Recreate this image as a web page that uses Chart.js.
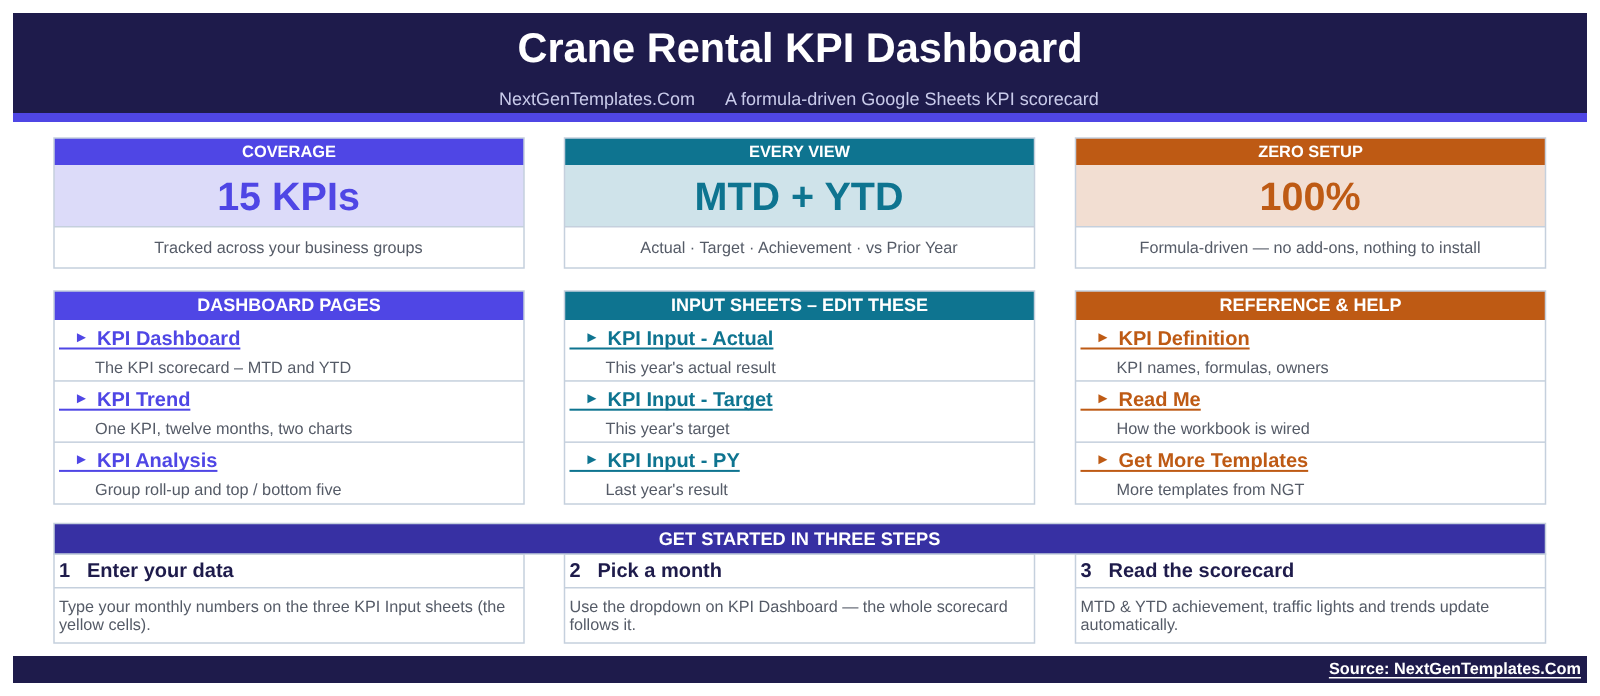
<!DOCTYPE html>
<html>
<head>
<meta charset="utf-8">
<title>Crane Rental KPI Dashboard</title>
<script src="https://cdn.jsdelivr.net/npm/chart.js@4"></script>
<style>
  html, body { margin: 0; padding: 0; background: #ffffff; }
  canvas { display: block; }
</style>
</head>
<body>
<canvas id="dashboard" width="1600" height="696"></canvas>
<script>
// Text content of the sheet
const bannerTitle = 'Crane Rental KPI Dashboard';
const bannerSite = 'NextGenTemplates.Com';
const bannerTagline = 'A formula-driven Google Sheets KPI scorecard';
const cardLabels = ['COVERAGE', 'EVERY VIEW', 'ZERO SETUP'];
const cardValues = ['15 KPIs', 'MTD + YTD', '100%'];
const cardNotes = [
    'Tracked across your business groups',
    'Actual · Target · Achievement · vs Prior Year',
    'Formula-driven — no add-ons, nothing to install'
];
const sectionTitles = ['DASHBOARD PAGES', 'INPUT SHEETS – EDIT THESE', 'REFERENCE & HELP'];
const linkTitles = [
    ['KPI Dashboard', 'KPI Trend', 'KPI Analysis'],
    ['KPI Input - Actual', 'KPI Input - Target', 'KPI Input - PY'],
    ['KPI Definition', 'Read Me', 'Get More Templates']
];
const linkNotes = [
    ['The KPI scorecard – MTD and YTD', 'One KPI, twelve months, two charts', 'Group roll-up and top / bottom five'],
    ["This year's actual result", "This year's target", "Last year's result"],
    ['KPI names, formulas, owners', 'How the workbook is wired', 'More templates from NGT']
];
const stepsHeading = 'GET STARTED IN THREE STEPS';
const stepNumbers = ['1', '2', '3'];
const stepTitles = ['Enter your data', 'Pick a month', 'Read the scorecard'];
const stepLines = [
    ['Type your monthly numbers on the three KPI Input sheets (the', 'yellow cells).'],
    ['Use the dropdown on KPI Dashboard — the whole scorecard', 'follows it.'],
    ['MTD & YTD achievement, traffic lights and trends update', 'automatically.']
];
const sourceText = 'Source: NextGenTemplates.Com';

// Colours
const NAVY = '#1e1b4b';
const ACCENT = ['#4f46e5', '#0e7490', '#be5a14'];
const TINT = ['#dcdbf9', '#cfe3ea', '#f2ded2'];
const BORDER = '#c5d0dd';
const GREY = '#555b67';
const FONT = '"Liberation Sans", Arial, sans-serif';

// Layout, in axis units (the axes run 1:1 with the sheet)
const COL_LEFT = [54, 564.5, 1075.5];
const COL_WIDTH = 470;

const sheetPlugin = {
    id: 'sheet',
    beforeDraw(chart) {
        const { ctx, scales } = chart;
        const X = v => scales.x.getPixelForValue(v);
        const Y = v => scales.y.getPixelForValue(v);
        ctx.textRendering = 'geometricPrecision';

        function box(x0, y0, x1, y1, fill, line) {
            if (fill) {
                ctx.fillStyle = fill;
                ctx.fillRect(X(x0), Y(y0), X(x1) - X(x0), Y(y1) - Y(y0));
            }
            if (line) {
                ctx.strokeStyle = line;
                ctx.lineWidth = 1.5;
                ctx.strokeRect(X(x0), Y(y0), X(x1) - X(x0), Y(y1) - Y(y0));
            }
        }
        function text(str, x, y, font, colour, align) {
            ctx.font = font + ' ' + FONT;
            ctx.fillStyle = colour;
            ctx.textAlign = align || 'left';
            ctx.textBaseline = 'middle';
            ctx.fillText(str, X(x), Y(y + 1.5));
            return ctx.measureText(str).width;
        }
        function rule(x0, x1, y, colour, w) {
            ctx.fillStyle = colour;
            ctx.fillRect(X(x0), Y(y), X(x1) - X(x0), w);
        }

        // Banner
        box(13, 13, 1587, 114, NAVY);
        box(13, 113, 1587, 122, ACCENT[0]);
        text(bannerTitle, 800, 49.5, 'bold 41.5px', '#ffffff', 'center');
        text(bannerSite, 499, 99, '18px', '#c9cbea');
        text(bannerTagline, 725, 99, '18.05px', '#c9cbea');

        COL_LEFT.forEach((left, c) => {
            const right = left + COL_WIDTH;
            const mid = left + COL_WIDTH / 2;

            // KPI card
            box(left, 165, right, 227, TINT[c]);
            box(left, 138, right, 165, ACCENT[c]);
            box(left, 138, right, 268, null, BORDER);
            rule(left, right, 226, BORDER, 1.5);
            text(cardLabels[c], mid, 150.5, 'bold 16.4px', '#ffffff', 'center');
            text(cardValues[c], mid - 0.5, 197.5, 'bold 39.5px', ACCENT[c], 'center');
            text(cardNotes[c], mid - 0.5, 247, '16.2px', GREY, 'center');

            // Link list
            box(left, 291, right, 320, ACCENT[c]);
            box(left, 291, right, 504, null, BORDER);
            text(sectionTitles[c], mid, 305, 'bold 18px', '#ffffff', 'center');
            linkTitles[c].forEach((title, r) => {
                const top = 320 + r * 61.2;
                if (r > 0) rule(left, right, top - 1, BORDER, 1.5);
                const w = text(title, left + 43, top + 18, 'bold 20px', ACCENT[c]);
                text('►', left + 20, top + 16, '15px', ACCENT[c]);
                rule(left + 5, left + 43 + w, top + 27.5, ACCENT[c], 2);
                text(linkNotes[c][r], left + 41, top + 47, '16.25px', GREY);
            });

            // Step card
            box(left, 554, right, 643, null, BORDER);
            rule(left, right, 587, BORDER, 1.5);
            const numX = left + 5;
            text(stepNumbers[c], numX, 569.5, 'bold 20px', NAVY);
            text(stepTitles[c], numX + 28, 569.5, 'bold 20px', NAVY);
            stepLines[c].forEach((line, i) => {
                text(line, numX, 606 + i * 18.5, '16.2px', GREY);
            });
        });

        // Steps heading sits over the step cards
        box(54, 523.5, 1545.5, 554, '#3730a3', BORDER);
        text(stepsHeading, 799.5, 538.5, 'bold 18.2px', '#ffffff', 'center');

        // Footer
        box(13, 656, 1587, 683, NAVY);
        const w = text(sourceText, 1581, 668, 'bold 16.3px', '#ffffff', 'right');
        rule(1581 - w, 1581, 677, '#ffffff', 1.5);
    }
};

new Chart(document.getElementById('dashboard'), {
    type: 'bar',
    data: { labels: [], datasets: [{ data: [] }] },
    options: {
        responsive: false,
        animation: false,
        layout: { padding: 0 },
        plugins: { legend: { display: false }, tooltip: { enabled: false }, title: { display: false } },
        scales: {
            x: { type: 'linear', min: 0, max: 1600, offset: false, display: false },
            y: { type: 'linear', min: 0, max: 696, reverse: true, display: false }
        }
    },
    plugins: [sheetPlugin]
});
</script>
</body>
</html>
